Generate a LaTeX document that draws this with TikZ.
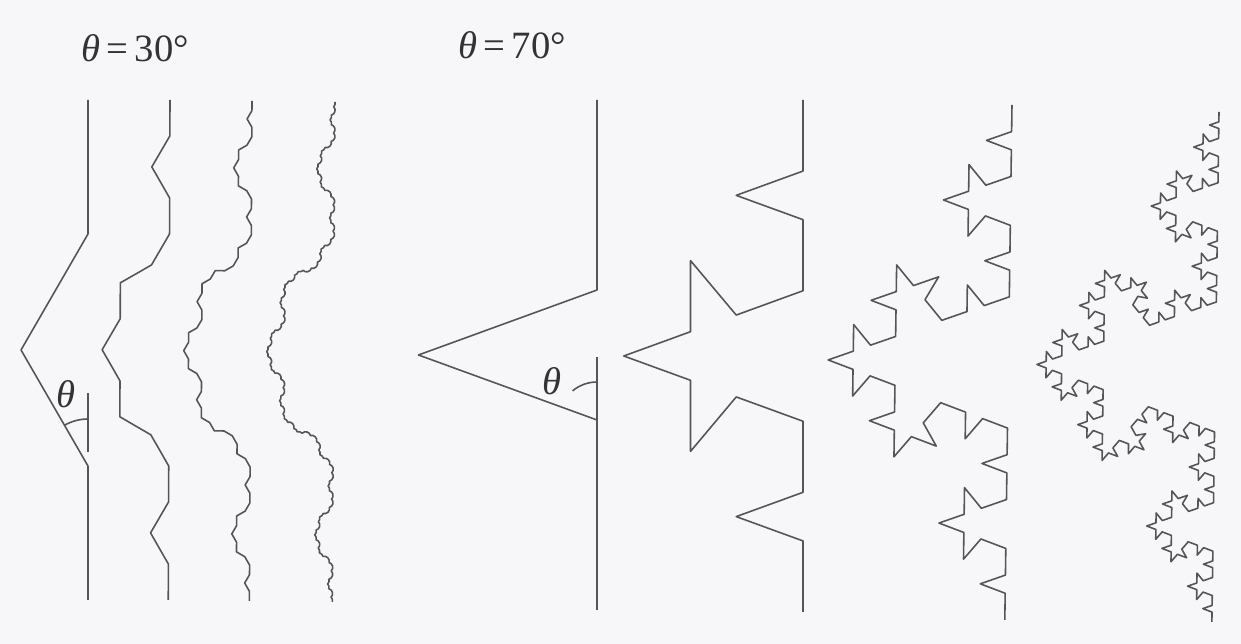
\documentclass[tikz,border=0pt]{standalone}
\usepackage{fontspec}
\setmainfont{Liberation Serif}
\definecolor{inkgray}{RGB}{85,85,85}
\definecolor{paper}{RGB}{247,247,249}

% turn of one base-4 digit of the segment index
\newcommand\kochd[1]{((mod(floor(\k/#1),4)==1)-(mod(floor(\k/#1),4)==2))}
% start, order, angle, step (px), tilt
\newcommand\koch[5]{%
  \pgfmathtruncatemacro\kochlast{4^#2-1}%
  \draw[curve] (#1) \foreach \k in {0,...,\kochlast}{
    -- ++({90+#5+#3*(\kochd{1}+\kochd{4}+\kochd{16}+\kochd{64})}:#4)};}

\begin{document}
\begin{tikzpicture}[x=0.02cm,y=-0.02cm,
    curve/.style={draw=inkgray,line width=0.9pt,line join=round},
    lbl/.style={font=\fontsize{22}{26}\selectfont,text=black!80,inner sep=0pt}]
  \fill[paper] (0,0) rectangle (1241,644);
  \useasboundingbox (0,0) rectangle (1241,644);

  % theta = 30
  \node[lbl] (lab30) at (135,48) {\textit{θ}\,=\,30°};
  \coordinate (s30a) at (88,100);
  \coordinate (s30b) at (170,100);
  \coordinate (s30c) at (252,101);
  \coordinate (s30d) at (335,102);
  \koch{s30a}{1}{30}{133.97}{0}
  \koch{s30b}{2}{30}{35.898}{0.2}
  \koch{s30c}{3}{30}{9.619}{0.3}
  \koch{s30d}{4}{30}{2.5774}{0.3}
  \coordinate (v30) at (88,466);
  \draw[curve] (v30) ++(0,-14) -- ++(0,-59);
  \draw[curve] (v30) ++(0,-47) arc[start angle=-90,end angle=-120,radius=47];
  \node[lbl] (th30) at (66,394) {\textit{θ}};

  % theta = 70
  \node[lbl] (lab70) at (512,45) {\textit{θ}\,=\,70°};
  \coordinate (s70a) at (597,100);
  \coordinate (s70b) at (803,100);
  \coordinate (s70c) at (1012,105);
  \coordinate (s70d) at (1219,112);
  \koch{s70a}{1}{70}{190.01}{0}
  \koch{s70b}{2}{70}{71.07}{0}
  \koch{s70c}{3}{70}{26.634}{0.8}
  \koch{s70d}{4}{70}{9.827}{0.8}
  \coordinate (v70) at (597,420);
  \draw[curve] (v70) -- ++(0,-63);
  \draw[curve] (v70) ++(0,-38) arc[start angle=-90,end angle=-130,radius=38];
  \node[lbl] (th70) at (552,381) {\textit{θ}};
\end{tikzpicture}
\end{document}
